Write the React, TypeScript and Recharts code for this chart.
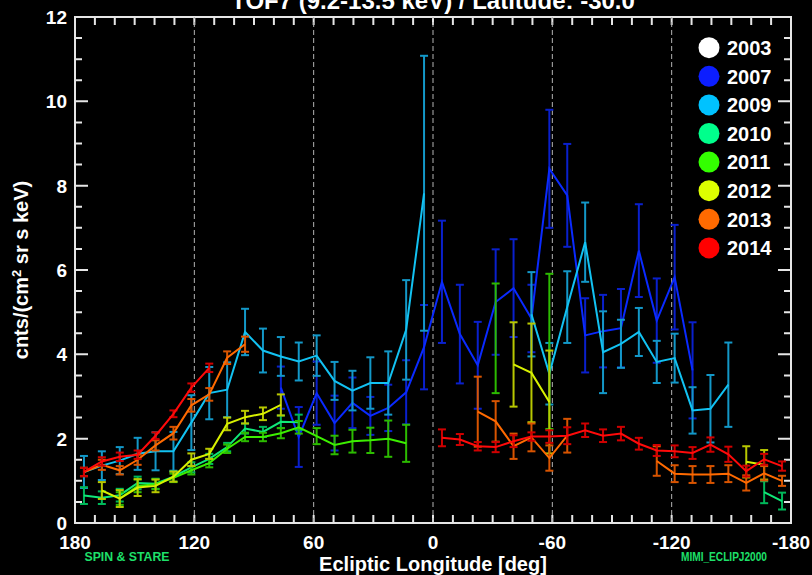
import { ComposedChart, Line, ErrorBar, XAxis, YAxis, ReferenceLine } from "recharts";

// chart frame
const W = 812;
const H = 575;
const X0 = 75;
const X1 = 791;
const Y0 = 17;
const Y1 = 523;
// axis bands reserved inside the margins
const AX_LEFT = 40;
const AX_BOTTOM = 30;
const MARGIN = {
  top: Y0,
  right: W - X1,
  bottom: H - Y1 - AX_BOTTOM,
  left: X0 - AX_LEFT,
};
const AXIS = "#e6e6e6";
const FONT = "'Liberation Sans', Arial, Helvetica, sans-serif";

const _ = null;

// 9-degree longitude bins
const LON = [
  175.5, 166.5, 157.5, 148.5, 139.5, 130.5, 121.5, 112.5, 103.5, 94.5,
  85.5, 76.5, 67.5, 58.5, 49.5, 40.5, 31.5, 22.5, 13.5, 4.5,
  -4.5, -13.5, -22.5, -31.5, -40.5, -49.5, -58.5, -67.5, -76.5, -85.5,
  -94.5, -103.5, -112.5, -121.5, -130.5, -139.5, -148.5, -157.5, -166.5, -175.5,
];

const V2007 = [
  _, _, _, _, _, _, _, _, _, _,
  _, 3.21, 2.04, 3.08, 2.37, 2.85, 2.54, 2.73, 3.10, 4.17,
  5.72, 4.48, 3.74, 5.24, 5.57, 4.85, 8.40, 7.77, 4.45, 4.55,
  4.62, 6.46, 4.80, 5.83, 3.62, _, _, _, _, _,
];
const E2007 = [
  _, _, _, _, _, _, _, _, _, _,
  _, 0.5, 0.71, 0.75, 0.65, 0.6, 0.45, 0.55, 0.76, 1.0,
  1.45, 1.17, 1.03, 1.25, 1.16, 0.8, 1.4, 1.22, 0.88, 0.86,
  0.93, 1.1, 1.0, 1.24, 1.14, _, _, _, _, _,
];

const V2009 = [
  1.21, 1.36, 1.48, 1.64, 1.70, 1.70, 2.38, 3.08, 3.16, 4.53,
  4.09, 3.95, 3.83, 3.97, 3.37, 3.14, 3.32, 3.32, 4.58, 7.82,
  _, _, _, _, _, 4.95, 3.54, 5.12, 6.66, 4.05,
  4.25, 4.53, 3.82, 3.91, 2.67, 2.71, 3.28, _, _, _,
];
const E2009 = [
  0.38, 0.34, 0.32, 0.38, 0.45, 0.46, 0.65, 0.62, 0.65, 0.55,
  0.52, 0.46, 0.45, 0.48, 0.45, 0.47, 0.61, 0.75, 1.18, 3.26,
  _, _, _, _, _, 1.0, 0.73, 0.85, 0.94, 0.97,
  0.57, 0.57, 0.5, 0.58, 0.55, 0.8, 1.0, _, _, _,
];

const V2010 = [
  0.65, 0.60, 0.66, 0.95, 0.93, 1.10, 1.32, 1.52, 1.80, 2.24,
  2.16, 2.40, 2.39, _, _, _, _, _, _, _,
  _, _, _, _, _, _, _, _, _, _,
  _, _, _, _, _, _, _, _, 0.73, 0.52,
];
const E2010 = [
  0.2, 0.15, 0.15, 0.15, 0.12, 0.12, 0.12, 0.12, 0.1, 0.12,
  0.12, 0.15, 0.18, _, _, _, _, _, _, _,
  _, _, _, _, _, _, _, _, _, _,
  _, _, _, _, _, _, _, _, 0.26, 0.2,
];

const V2011 = [
  _, _, 0.58, 0.88, 0.92, 1.07, 1.25, 1.42, 1.76, 2.04,
  2.04, 2.13, 2.27, 2.06, 1.85, 1.94, 1.96, 2.00, 1.89, _,
  _, _, _, 4.38, _, _, 4.07, _, _, _,
  _, _, _, _, _, _, _, _, _, _,
];
const E2011 = [
  _, _, 0.15, 0.15, 0.12, 0.1, 0.1, 0.1, 0.1, 0.1,
  0.1, 0.12, 0.15, 0.19, 0.22, 0.27, 0.3, 0.43, 0.44, _,
  _, _, _, 1.3, _, _, 1.84, _, _, _,
  _, _, _, _, _, _, _, _, _, _,
];

const V2012 = [
  _, 0.77, 0.58, 0.84, 0.88, 1.10, 1.50, 1.64, 2.35, 2.51,
  2.59, 2.80, _, _, _, _, _, _, _, _,
  _, _, _, _, 3.76, 3.56, 2.87, _, _, _,
  _, _, _, _, _, _, _, 1.45, 1.38, _,
];
const E2012 = [
  _, 0.2, 0.2, 0.2, 0.15, 0.12, 0.15, 0.12, 0.15, 0.15,
  0.15, 0.25, _, _, _, _, _, _, _, _,
  _, _, _, _, 1.0, 1.17, 1.22, _, _, _,
  _, _, _, _, _, _, _, 0.37, 0.35, _,
];

const V2013 = [
  1.21, 1.38, 1.25, 1.50, 1.84, 2.13, 2.79, 3.05, 3.92, 4.24,
  _, _, _, _, _, _, _, _, _, _,
  _, _, 2.64, 2.41, 1.82, 2.03, 1.54, 2.07, _, _,
  _, _, 1.47, 1.17, 1.15, 1.15, 1.17, 0.95, 1.18, 1.00,
];
const E2013 = [
  0.1, 0.12, 0.1, 0.12, 0.12, 0.15, 0.15, 0.15, 0.15, 0.18,
  _, _, _, _, _, _, _, _, _, _,
  _, _, 0.83, 0.48, 0.3, 0.33, 0.3, 0.4, _, _,
  _, _, 0.35, 0.2, 0.2, 0.2, 0.2, 0.18, 0.17, 0.12,
];

const V2014 = [
  1.21, 1.46, 1.57, 1.62, 2.07, 2.59, 3.21, 3.68, _, _,
  _, _, _, _, _, _, _, _, _, _,
  2.02, 1.98, 1.82, 1.80, 1.94, 2.05, 2.05, 2.07, 2.20, 2.07,
  2.12, 1.88, 1.72, 1.70, 1.66, 1.86, 1.63, 1.23, 1.51, 1.35,
];
const E2014 = [
  0.1, 0.1, 0.1, 0.1, 0.08, 0.08, 0.1, 0.1, _, _,
  _, _, _, _, _, _, _, _, _, _,
  0.2, 0.13, 0.1, 0.12, 0.14, 0.1, 0.15, 0.2, 0.16, 0.15,
  0.16, 0.14, 0.13, 0.14, 0.14, 0.17, 0.18, 0.13, 0.13, 0.11,
];

const YEARS = ["2003", "2007", "2009", "2010", "2011", "2012", "2013", "2014"];

const X_TICKS = [
  180, 170, 160, 150, 140, 130, 120, 110, 100, 90, 80, 70, 60, 50, 40, 30, 20, 10, 0,
  -10, -20, -30, -40, -50, -60, -70, -80, -90, -100, -110, -120, -130, -140, -150, -160, -170, -180,
];
const X_LABELS = [180, 120, 60, 0, -60, -120, -180];
const X_DASHED = [120, 60, 0, -60, -120];
const Y_TICKS = [0, 0.5, 1, 1.5, 2, 2.5, 3, 3.5, 4, 4.5, 5, 5.5, 6, 6.5, 7, 7.5, 8, 8.5, 9, 9.5, 10, 10.5, 11, 11.5, 12];
const Y_LABELS = [0, 2, 4, 6, 8, 10, 12];

const LEGEND_COLOR: Record<string, string> = {
  "2003": "#ffffff",
  "2007": "#0c1eff",
  "2009": "#00c2ff",
  "2010": "#00ff8c",
  "2011": "#33ff00",
  "2012": "#ddff00",
  "2013": "#ff6a00",
  "2014": "#ff0000",
};

// line colour, error bar colour
const STYLE: Record<string, [string, string]> = {
  "2007": ["#0a2aff", "#0a20cc"],
  "2009": ["#12c2f2", "#1398c8"],
  "2010": ["#10e878", "#00b85a"],
  "2011": ["#3cee00", "#2cbb00"],
  "2012": ["#d8f000", "#b8c800"],
  "2013": ["#ff6a00", "#d85400"],
  "2014": ["#ff0a0a", "#d00000"],
};

const SERIES: [string, (number | null)[], (number | null)[]][] = [
  ["2007", V2007, E2007],
  ["2009", V2009, E2009],
  ["2010", V2010, E2010],
  ["2011", V2011, E2011],
  ["2012", V2012, E2012],
  ["2013", V2013, E2013],
  ["2014", V2014, E2014],
];

const rows = LON.map((lon, i) => {
  const r: Record<string, number | null> = { lon };
  SERIES.forEach(([y, v, e]) => {
    r["v" + y] = v[i];
    r["e" + y] = v[i] == null ? null : e[i];
  });
  return r;
});

// inward tick marks on all four sides of the frame
const lonPx = (v: number) => X0 + ((180 - v) / 360) * (X1 - X0);
const cntPx = (v: number) => Y1 - (v / 12) * (Y1 - Y0);
const TICK_PATH = [
  ...X_TICKS.map((v) => `M${lonPx(v)},${Y1}v-8M${lonPx(v)},${Y0}v8`),
  ...Y_TICKS.map((v) => {
    const len = Y_LABELS.includes(v) ? 13 : 7;
    return `M${X0},${cntPx(v)}h${len}M${X1},${cntPx(v)}h${-len}`;
  }),
].join("");

const label = { fill: "#fff", fontFamily: FONT, fontWeight: 700 } as const;

function LonLabel({ x, payload }: any) {
  const v = payload.value;
  if (!X_LABELS.includes(v)) return <g />;
  return (
    <text x={x} y={Y1 + 26} textAnchor="middle" fontSize={19} {...label}>
      {v}
    </text>
  );
}

function CountLabel({ y, payload }: any) {
  const v = payload.value;
  if (!Y_LABELS.includes(v)) return <g />;
  return (
    <text x={X0 - 8} y={y} dy="0.36em" textAnchor="end" fontSize={19} {...label}>
      {v}
    </text>
  );
}

export default function App() {
  const axisLine = { stroke: AXIS, strokeWidth: 2 };
  return (
    <div style={{ position: "absolute", left: 0, top: 0, width: W, height: H, background: "#000" }}>
      <ComposedChart width={W} height={H} data={rows} margin={MARGIN}>
        <XAxis
          dataKey="lon"
          type="number"
          domain={[-180, 180]}
          reversed
          ticks={X_TICKS}
          interval={0}
          height={AX_BOTTOM}
          axisLine={axisLine}
          tickLine={false}
          tick={(p: any) => <LonLabel {...p} />}
        />
        <YAxis
          type="number"
          domain={[0, 12]}
          ticks={Y_TICKS}
          interval={0}
          width={AX_LEFT}
          axisLine={axisLine}
          tickLine={false}
          tick={(p: any) => <CountLabel {...p} />}
        />

        {X_DASHED.map((x) => (
          <ReferenceLine key={x} x={x} stroke="#b4b4b4" strokeWidth={1} strokeDasharray="5 3" />
        ))}

        {SERIES.map(([y]) => (
          <Line
            key={y}
            dataKey={"v" + y}
            stroke={STYLE[y][0]}
            strokeWidth={2}
            dot={false}
            activeDot={false}
            connectNulls={false}
            isAnimationActive={false}
          >
            <ErrorBar
              dataKey={"e" + y}
              direction="y"
              width={4}
              stroke={STYLE[y][1]}
              strokeWidth={2}
              isAnimationActive={false}
            />
          </Line>
        ))}

        {/* frame and its tick marks */}
        <rect x={X0} y={Y0} width={X1 - X0} height={Y1 - Y0} fill="none" stroke={AXIS} strokeWidth={2} />
        <path d={TICK_PATH} fill="none" stroke={AXIS} strokeWidth={2} />

        {/* title, runs off the top edge */}
        <text x={(X0 + X1) / 2} y={9} textAnchor="middle" fontSize={24} {...label}>
          TOF7 (9.2-13.5 keV) / Latitude:  -30.0
        </text>

        <text x={(X0 + X1) / 2} y={571} textAnchor="middle" fontSize={20} {...label}>
          Ecliptic Longitude [deg]
        </text>

        <text
          transform={`translate(21, ${(Y0 + Y1) / 2}) rotate(-90)`}
          textAnchor="middle"
          dy="0.36em"
          fontSize={20}
          {...label}
        >
          cnts/(cm<tspan dy={-7} fontSize={13}>2</tspan>
          <tspan dy={7}> sr s keV)</tspan>
        </text>

        <text x={127} y={561} textAnchor="middle" fontSize={12} textLength={85} lengthAdjust="spacingAndGlyphs" fill="#1ee06a" fontFamily={FONT} fontWeight={700}>
          SPIN &amp; STARE
        </text>
        <text x={724} y={561} textAnchor="middle" fontSize={12} textLength={86} lengthAdjust="spacingAndGlyphs" fill="#1ee06a" fontFamily={FONT} fontWeight={700}>
          MIMI_ECLIPJ2000
        </text>

        {/* legend */}
        <g>
          {YEARS.map((y, i) => (
            <g key={y} transform={`translate(709, ${47.7 + i * 28.6})`}>
              <circle r={10.5} fill={LEGEND_COLOR[y]} />
              <text x={18} dy="0.36em" fontSize={20} {...label}>
                {y}
              </text>
            </g>
          ))}
        </g>
      </ComposedChart>
    </div>
  );
}
